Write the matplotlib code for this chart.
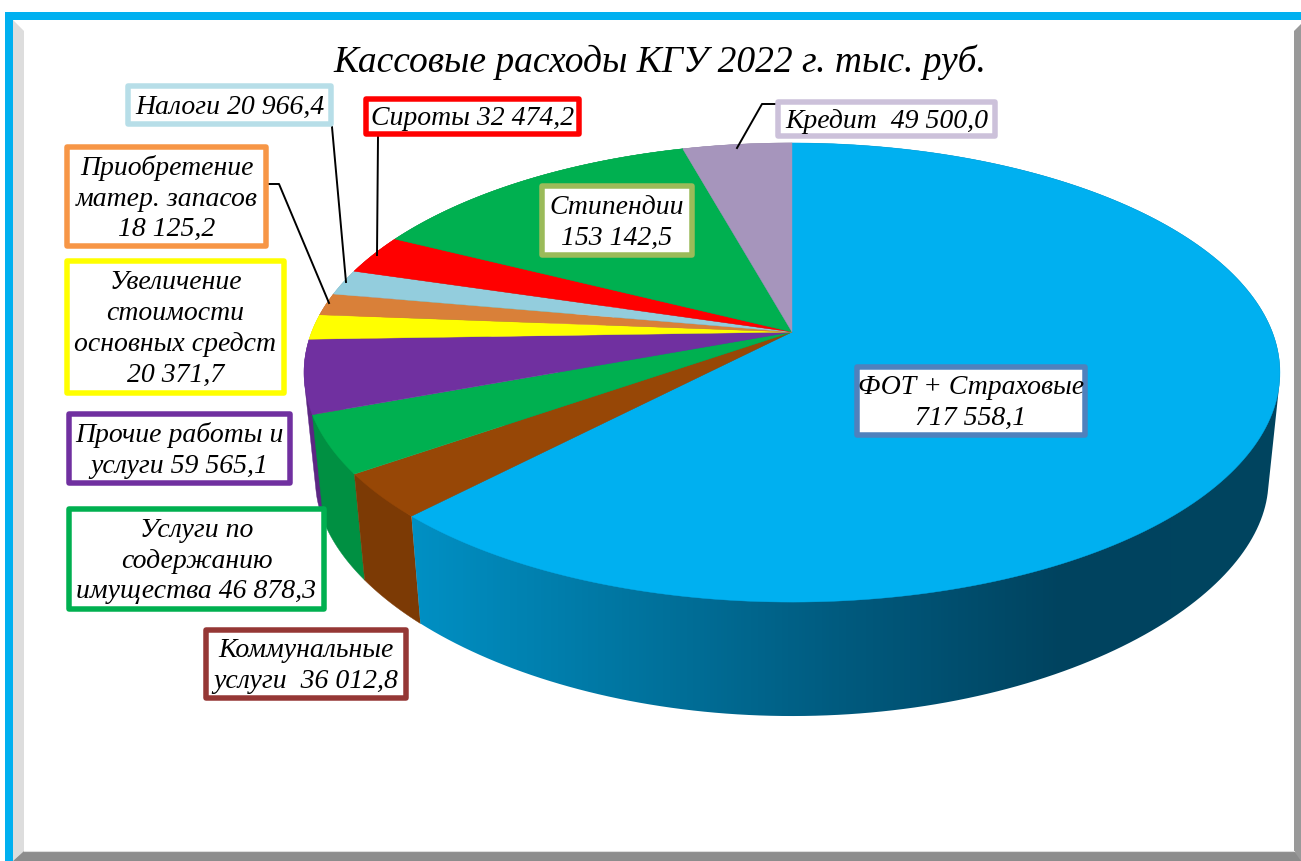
import numpy as np
import matplotlib
matplotlib.use("Agg")
import matplotlib.pyplot as plt
from matplotlib.colors import LinearSegmentedColormap, to_rgb
from matplotlib.patches import Polygon, Rectangle

# Datos
titulo = "Кассовые расходы КГУ 2022 г. тыс. руб."
categorias = ["ФОТ + Страховые", "Коммунальные услуги", "Услуги по содержанию имущества",
              "Прочие работы и услуги", "Увеличение стоимости основных средст",
              "Приобретение матер. запасов", "Налоги", "Сироты", "Стипендии", "Кредит"]
valores = [717558.1, 36012.8, 46878.3, 59565.1, 20371.7,
           18125.2, 20966.4, 32474.2, 153142.5, 49500.0]
etiquetas = ["ФОТ + Страховые\n717 558,1",
             "Коммунальные\nуслуги  36 012,8",
             "Услуги по\nсодержанию\nимущества 46 878,3",
             "Прочие работы и\nуслуги 59 565,1",
             "Увеличение\nстоимости\nосновных средст\n20 371,7",
             "Приобретение\nматер. запасов\n18 125,2",
             "Налоги 20 966,4",
             "Сироты 32 474,2",
             "Стипендии\n153 142,5",
             "Кредит  49 500,0"]

# Estilo
colores = ["#00B0F0", "#974706", "#00B050", "#7030A0", "#FFFF00",
           "#D98039", "#93CDDD", "#FF0000", "#00B050", "#A695BC"]
bordes = ["#4F81BD", "#953735", "#00B050", "#7030A0", "#FFFF00",
          "#F79646", "#B7DEE8", "#FF0000", "#9BBB59", "#CCC1DA"]
# cajas en pixeles: x0, x1, y0, y1
cajas = [(854, 1088, 364, 438), (203, 409, 627, 701), (66, 327, 506, 612),
         (66, 293, 411, 486), (64, 287, 258, 396), (64, 269, 144, 249),
         (125, 334, 83, 127), (363, 582, 96, 137), (539, 695, 183, 258),
         (775, 998, 99, 139)]
lineas_guia = [[(332, 127), (346, 282)],
               [(378, 137), (377, 255)],
               [(269, 184), (279, 184), (329, 303)],
               [(776, 104), (762, 104), (737, 148)]]
FUENTE = "Liberation Serif"
TAM = 20


# Proyeccion en perspectiva del disco: (u, v) del circulo unidad a pixeles
def cara_sup(u, v):
    d = 1 + 0.1765 * v
    return 792 + 480.3 * u / d, 332 - 222.4 * v / d


def cara_inf(u, v):
    return 792 + 469 * u / (1 + 0.1765 * v), 442.7 - 205 * v / (1 + 0.25 * v)


# Envolvente convexa, para que la pared no deje huecos en el borde
def envolvente(pts):
    pts = sorted(map(tuple, pts))

    def medio(seq):
        res = []
        for p in seq:
            while len(res) > 1 and ((res[-1][0] - res[-2][0]) * (p[1] - res[-2][1])
                                    - (res[-1][1] - res[-2][1]) * (p[0] - res[-2][0])) <= 0:
                res.pop()
            res.append(p)
        return res[:-1]
    return np.array(medio(pts) + medio(pts[::-1]))


fig = plt.figure(figsize=(13.01, 8.61), dpi=100)
ax = fig.add_axes([0, 0, 1, 1])
ax.axis("off")

# Marco de la imagen
ax.add_patch(Polygon([(13, 20), (24, 31), (24, 851), (13, 861)], fc="#DDDDDD", ec="none"))
ax.add_patch(Polygon([(13, 861), (24, 851), (1294, 851), (1301, 858), (1301, 861)], fc="#8C8C8C", ec="none"))
ax.add_patch(Polygon([(1294, 851), (1294, 31), (1301, 24), (1301, 861)], fc="#999999", ec="none"))
ax.plot([24, 1294], [850.5, 850.5], color="#DDDDDD", lw=0.8)
ax.add_patch(Rectangle((5, 12), 8, 849, fc="#00B0F0", ec="none"))
ax.add_patch(Rectangle((5, 12), 1296, 8, fc="#00B0F0", ec="none"))

# Angulos de cada sector, en sentido horario desde arriba
total = sum(valores)
limites = 2 * np.pi * np.cumsum([0] + valores) / total
arcos = []
for i in range(len(valores)):
    th = np.linspace(limites[i], limites[i + 1], 200)
    arcos.append((np.sin(th), np.cos(th)))

# Paredes laterales, de atras hacia delante
degradado = LinearSegmentedColormap.from_list(
    "pared", ["#0090C4", "#0075A0", "#005A7E", "#00435F", "#004560"])
for i in reversed(range(len(valores))):
    u, v = arcos[i]
    xs, ys = cara_sup(u, v)
    xi, yi = cara_inf(u, v)
    pts = envolvente(np.vstack([np.column_stack([xs, ys]), np.column_stack([xi, yi])]))
    if i == 0:
        pared = Polygon(pts, fc="none", ec="none")
        ax.add_patch(pared)
        img = ax.imshow(np.linspace(0, 1, 256).reshape(1, -1), cmap=degradado, aspect="auto",
                        extent=(412, 1280, 730, 140), zorder=1)
        img.set_clip_path(pared)
    else:
        oscuro = tuple(c * 0.82 for c in to_rgb(colores[i]))
        ax.add_patch(Polygon(pts, fc=oscuro, ec=oscuro, lw=0.3, zorder=1))

# Cara superior
for i in range(len(valores)):
    u, v = arcos[i]
    xs, ys = cara_sup(u, v)
    px, py = cara_sup(0.0, 0.0)
    pts = np.vstack([[px, py], np.column_stack([xs, ys])])
    ax.add_patch(Polygon(pts, fc=colores[i], ec=colores[i], lw=0.3, zorder=2))

# Lineas guia
for linea in lineas_guia:
    ax.plot([p[0] for p in linea], [p[1] for p in linea], color="black", lw=1.4, zorder=3)

# Etiquetas con caja
for texto, borde, (x0, x1, y0, y1) in zip(etiquetas, bordes, cajas):
    g = 5.5
    ax.add_patch(Rectangle((x0 + g / 2, y0 + g / 2), x1 - x0 - g, y1 - y0 - g, fc="white", ec=borde,
                           lw=g * 0.72, joinstyle="round", zorder=4))
    ax.text((x0 + x1) / 2, (y0 + y1) / 2 + 2, texto, ha="center", va="center", ma="center",
            family=FUENTE, style="italic", fontsize=TAM, linespacing=1.31, color="black", zorder=5)

ax.text(660, 62, titulo, ha="center", va="center", family=FUENTE, style="italic",
        fontsize=27, color="black", zorder=5)

ax.set_xlim(0, 1301)
ax.set_ylim(861, 0)
fig.savefig("out.png", dpi=100, facecolor="white")
